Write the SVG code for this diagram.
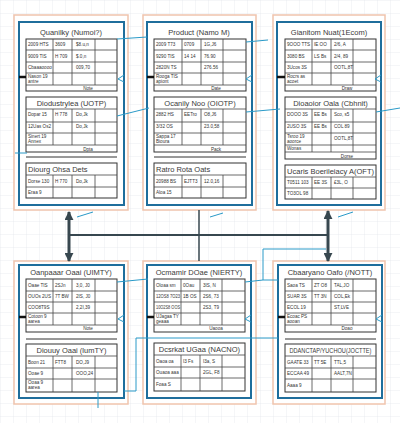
<svg xmlns="http://www.w3.org/2000/svg" width="400" height="423" viewBox="0 0 400 423">
<style>
.outer{fill:#fff;stroke:#f0c4ad;stroke-width:1.5}
.inner{fill:#fff;stroke:#1f6e9c;stroke-width:2}
.tbl{fill:#fff;stroke:#333;stroke-width:1}
.gl{fill:none;stroke:#444;stroke-width:0.8}
.title{font-family:"Liberation Sans",Arial,sans-serif;font-size:7.5px;fill:#3a3a3a;text-anchor:middle}
.ltitle{font-family:"Liberation Sans",Arial,sans-serif;font-size:7.5px;fill:#3a3a3a}
.c{font-family:"Liberation Sans",Arial,sans-serif;font-size:4.6px;fill:#333}
.n{font-family:"Liberation Sans",Arial,sans-serif;font-size:4.6px;fill:#333;text-anchor:middle}
.sep{stroke:#333;stroke-width:1}
.bm{stroke:#111;stroke-width:2.5}
.bl{fill:none;stroke:#2a9ac8;stroke-width:1}
.dk{fill:none;stroke:#37474f}
</style>
<defs>
<pattern id="grid" width="13" height="13" patternUnits="userSpaceOnUse">
<path d="M13 0H0V13" fill="none" stroke="#e1e5ea" stroke-width="0.7"/>
</pattern>
<marker id="ah" viewBox="0 0 10 10" refX="9" refY="5" markerWidth="9" markerHeight="9" markerUnits="userSpaceOnUse" orient="auto-start-reverse">
<path d="M0 0L10 5L0 10z" fill="#37474f"/>
</marker>
</defs>
<rect width="400" height="423" fill="#fff"/>
<rect width="400" height="423" fill="url(#grid)"/>

<!-- Card A -->
<g id="card-a" transform="translate(14,15)">
<rect class="outer" x="0" y="0" width="114" height="195"/>
<rect class="inner" x="5" y="7" width="105" height="183"/>
<text class="title" x="57" y="20">Quanilky (Numoi?)</text>
<g transform="translate(12,24)">
<rect class="tbl" width="91" height="52"/>
<path class="gl" d="M0 11H91M0 23H91M0 34H91M0 46H91M27 0V46M46 0V46M69 0V46"/>
<text class="c" x="2" y="7">2009 HTS</text><text class="c" x="29" y="7">3609</text><text class="c" x="50" y="7">$8.u,n</text>
<text class="c" x="2" y="19">9009 TIS</text><text class="c" x="29" y="19">H 709</text><text class="c" x="50" y="19">$.0,n</text>
<text class="c" x="2" y="30">Cbaaaoooo</text><text class="c" x="50" y="30">009,70</text>
<text class="c" x="2" y="39">Nason 19</text><text class="c" x="2" y="44">antre</text>
<text class="n" x="62" y="51">Note</text>
</g>
<g transform="translate(12,82)">
<rect class="tbl" width="91" height="55"/>
<path class="gl" d="M0 12H91M0 25H91M0 36H91M0 48H91M27 12V48M46 12V48M69 12V48"/>
<text class="title" x="45.5" y="9">Diodustrylea (UOTP)</text>
<text class="c" x="2" y="19">Dopar 15</text><text class="c" x="29" y="19">H 778</text><text class="c" x="50" y="19">Do,Jk</text>
<text class="c" x="2" y="31">12Uas Os2</text><text class="c" x="50" y="31">Do,Jk</text>
<text class="c" x="2" y="41">Sinert 19</text><text class="c" x="2" y="46">Annex</text>
<text class="n" x="62" y="54">Dpta</text>
</g>
<line class="sep" x1="12" y1="142" x2="103" y2="142"/>
<g transform="translate(12,148)">
<rect class="tbl" width="91" height="35"/>
<path class="gl" d="M0 12H91M0 24H91M27 12V35M46 12V35M69 12V35"/>
<text class="ltitle" x="2" y="9">Diourg Ohsa Dets</text>
<text class="c" x="2" y="20">Dorse 130</text><text class="c" x="29" y="20">H 770</text><text class="c" x="50" y="20">Do,Jk</text>
<text class="c" x="2" y="31">Eraa 9</text>
</g>
<line class="bm" x1="5" y1="62" x2="12" y2="62"/>
<path class="bl" d="M110 60L104 64L110 67"/>
</g>

<!-- Card B -->
<g id="card-b" transform="translate(143,15)">
<rect class="outer" x="0" y="0" width="113" height="195"/>
<rect class="inner" x="4" y="7" width="105" height="183"/>
<text class="title" x="56" y="20">Product (Namo M)</text>
<g transform="translate(11,24)">
<rect class="tbl" width="92" height="52"/>
<path class="gl" d="M0 11H92M0 23H92M0 34H92M0 46H92M28 0V46M47 0V46M69 0V46"/>
<text class="c" x="2" y="7">2009 T73</text><text class="c" x="30" y="7">0709</text><text class="c" x="50" y="7">1G,J6</text>
<text class="c" x="2" y="19">9290 TIS</text><text class="c" x="30" y="19">14 14</text><text class="c" x="50" y="19">76.90</text>
<text class="c" x="2" y="30">2820N TS</text><text class="c" x="50" y="30">276.56</text>
<text class="c" x="2" y="39">Rooga TIS</text><text class="c" x="2" y="44">apiont</text>
<text class="n" x="62" y="51">Date</text>
</g>
<g transform="translate(11,82)">
<rect class="tbl" width="92" height="55"/>
<path class="gl" d="M0 12H92M0 25H92M0 36H92M0 48H92M28 12V48M47 12V48M69 12V48"/>
<text class="title" x="46" y="9">Ocanily Noo (OIOTP)</text>
<text class="c" x="2" y="19">2882 HS</text><text class="c" x="30" y="19">EETro</text><text class="c" x="50" y="19">O8,J6</text>
<text class="c" x="2" y="31">3/32 OS</text><text class="c" x="50" y="31">23.0,58</text>
<text class="c" x="2" y="41">Sappa 17</text><text class="c" x="2" y="46">Bioura</text>
<text class="n" x="62" y="54">Pack</text>
</g>
<line class="sep" x1="11" y1="142" x2="103" y2="142"/>
<g transform="translate(11,148)">
<rect class="tbl" width="92" height="35"/>
<path class="gl" d="M0 12H92M0 24H92M28 12V35M47 12V35M69 12V35"/>
<text class="ltitle" x="2" y="9">Ratro Rota Oats</text>
<text class="c" x="2" y="20">20988 BS</text><text class="c" x="30" y="20">EJTT3</text><text class="c" x="50" y="20">12.0,16</text>
<text class="c" x="2" y="31">Aloa 15</text>
</g>
<line class="bm" x1="4" y1="62" x2="11" y2="62"/>
<path class="bl" d="M109 60L103 64L109 67"/>
</g>

<!-- Card C -->
<g id="card-c" transform="translate(273,15)">
<rect class="outer" x="0" y="0" width="112" height="195"/>
<rect class="inner" x="4" y="7" width="104" height="183"/>
<text class="title" x="56" y="20">Gianitom Nuat(1Ecom)</text>
<g transform="translate(12,24)">
<rect class="tbl" width="91" height="52"/>
<path class="gl" d="M0 11H91M0 23H91M0 34H91M0 46H91M27 0V46M46 0V46M68 0V46"/>
<text class="c" x="2" y="7">9OOO TTS</text><text class="c" x="29" y="7">IE OO</text><text class="c" x="49" y="7">2/6, A</text>
<text class="c" x="2" y="19">3080 BS</text><text class="c" x="29" y="19">LS Bs</text><text class="c" x="49" y="19">2/4, 89</text>
<text class="c" x="2" y="30">3Ucos 3S</text><text class="c" x="49" y="30">OOTL,8T</text>
<text class="c" x="2" y="39">Rocrs as</text><text class="c" x="2" y="44">acoet</text>
<text class="n" x="62" y="51">Draw</text>
</g>
<g transform="translate(12,82)">
<rect class="tbl" width="91" height="62"/>
<path class="gl" d="M0 12H91M0 25H91M0 36H91M0 48H91M0 55H91M27 12V55M46 12V55M68 12V55"/>
<text class="title" x="45.5" y="9">Dioaoior Oala (Cbhnit)</text>
<text class="c" x="2" y="19">DOOO 3S</text><text class="c" x="29" y="19">EE Bs</text><text class="c" x="49" y="19">Sco, s5</text>
<text class="c" x="2" y="31">2USO 3S</text><text class="c" x="29" y="31">EE Bs</text><text class="c" x="49" y="31">COL 89</text>
<text class="c" x="2" y="41">Tsroo 19</text><text class="c" x="2" y="46">aoorce</text><text class="c" x="49" y="43">OOTL,8T</text>
<text class="c" x="2" y="53">Wonas</text>
<text class="n" x="62" y="61">Dorse</text>
</g>
<g transform="translate(12,150)">
<rect class="tbl" width="91" height="34"/>
<path class="gl" d="M0 12H91M0 23H91M27 12V34M46 12V34M68 12V34"/>
<text class="ltitle" x="2" y="9" textLength="87" lengthAdjust="spacingAndGlyphs">Ucaris Boerileiacy A(OFT)</text>
<text class="c" x="2" y="19">T0511 103</text><text class="c" x="29" y="19">EE 3S</text><text class="c" x="49" y="19">£3L, O</text>
<text class="c" x="2" y="30">TO3OL 98</text>
</g>
<line class="bm" x1="4" y1="62" x2="12" y2="62"/>
<path class="bl" d="M108 60L102 64L108 67"/>
</g>

<!-- Card D -->
<g id="card-d" transform="translate(14,261)">
<rect class="outer" x="0" y="0" width="114" height="143"/>
<rect class="inner" x="5" y="4" width="105" height="133"/>
<text class="title" x="57" y="14">Oanpaaar Oaai (UIMTY)</text>
<g transform="translate(12,18)">
<rect class="tbl" width="91" height="53"/>
<path class="gl" d="M0 12H91M0 23H91M0 34H91M0 46H91M27 0V46M46 0V46M69 0V46"/>
<text class="c" x="2" y="8">Oaae TIS</text><text class="c" x="29" y="8">2SJn</text><text class="c" x="50" y="8">3,0, J0</text>
<text class="c" x="2" y="19">OUOs 2US</text><text class="c" x="29" y="19">7T BW</text><text class="c" x="50" y="19">2IS, J0</text>
<text class="c" x="2" y="30">COO8T9S</text><text class="c" x="50" y="30">2,2I,39</text>
<text class="c" x="2" y="39">Cotoon 9</text><text class="c" x="2" y="44">aarea</text>
<text class="n" x="62" y="51">Note</text>
</g>
<line class="sep" x1="12" y1="78" x2="103" y2="78"/>
<g transform="translate(12,83)">
<rect class="tbl" width="91" height="48"/>
<path class="gl" d="M0 12H91M0 24H91M0 35H91M27 12V48M46 12V48M69 12V48"/>
<text class="title" x="45.5" y="9">Diouuy Oaai (lumTY)</text>
<text class="c" x="2" y="20">Boon 21</text><text class="c" x="29" y="20">FTT8</text><text class="c" x="50" y="20">DO,J9</text>
<text class="c" x="2" y="31">Ooae 9</text><text class="c" x="50" y="31">OOO,24</text>
<text class="c" x="2" y="40">Ooaa 9</text><text class="c" x="2" y="45">aarea</text>
</g>
<line class="bm" x1="5" y1="56" x2="12" y2="56"/>
<path class="bl" d="M110 54L104 58L110 61"/>
</g>

<!-- Card E -->
<g id="card-e" transform="translate(143,261)">
<rect class="outer" x="0" y="0" width="113" height="143"/>
<rect class="inner" x="4" y="4" width="104" height="133"/>
<text class="title" x="56" y="14">Ocmamir DOae (NIERTY)</text>
<g transform="translate(11,18)">
<rect class="tbl" width="91" height="53"/>
<path class="gl" d="M0 12H91M0 23H91M0 34H91M0 46H91M27 0V46M46 0V46M68 0V46"/>
<text class="c" x="2" y="8">Oloaa sm</text><text class="c" x="29" y="8">0Oau</text><text class="c" x="49" y="8">3IS, N</text>
<text class="c" x="2" y="19" textLength="24" lengthAdjust="spacingAndGlyphs">12OS8 7O23</text><text class="c" x="29" y="19">1B OS</text><text class="c" x="49" y="19">2S6, 73</text>
<text class="c" x="2" y="30" textLength="24" lengthAdjust="spacingAndGlyphs">10O2S8 OOS</text><text class="c" x="49" y="30">2S3, T9</text>
<text class="c" x="2" y="39">UJagaa TY</text><text class="c" x="2" y="44">geaaa</text>
<text class="n" x="62" y="51">Uaooa</text>
</g>
<g transform="translate(11,82)">
<rect class="tbl" width="91" height="48"/>
<path class="gl" d="M0 12H91M0 24H91M0 35H91M27 12V48M46 12V48M68 12V48"/>
<text class="title" x="45.5" y="9">Dcsrkat UGaa (NACNO)</text>
<text class="c" x="2" y="20">Oaoa oa</text><text class="c" x="29" y="20">I3 Fs</text><text class="c" x="49" y="20">I3a, S</text>
<text class="c" x="2" y="31">Ouaoa aaa</text><text class="c" x="49" y="31">2GL, F8</text>
<text class="c" x="2" y="43">Foaa S</text>
</g>
<line class="bm" x1="4" y1="56" x2="11" y2="56"/>
<path class="bl" d="M108 54L102 58L108 61"/>
</g>

<!-- Card F -->
<g id="card-f" transform="translate(273,261)">
<rect class="outer" x="0" y="0" width="112" height="143"/>
<rect class="inner" x="5" y="4" width="104" height="133"/>
<text class="title" x="57" y="14">Cbaaryano Oafo (/NOTT)</text>
<g transform="translate(12,18)">
<rect class="tbl" width="91" height="53"/>
<path class="gl" d="M0 12H91M0 23H91M0 34H91M0 46H91M27 0V46M46 0V46M68 0V46"/>
<text class="c" x="2" y="8">Saoa TS</text><text class="c" x="29" y="8">ZT O8</text><text class="c" x="49" y="8">TAL,JO</text>
<text class="c" x="2" y="19">SUAR 3S</text><text class="c" x="29" y="19">TT 3N</text><text class="c" x="49" y="19">COL,Ek</text>
<text class="c" x="2" y="30">ECOL 19</text><text class="c" x="49" y="30">ST,LVE</text>
<text class="c" x="2" y="39">Ecoac PS</text><text class="c" x="2" y="44">aooan</text>
<text class="n" x="62" y="51">Doao</text>
</g>
<line class="sep" x1="12" y1="78" x2="103" y2="78"/>
<g transform="translate(12,83)">
<rect class="tbl" width="91" height="48"/>
<path class="gl" d="M0 12H91M0 24H91M0 35H91M27 12V48M46 12V48M68 12V48"/>
<text class="title" x="45.5" y="9" textLength="82" lengthAdjust="spacingAndGlyphs">DDANCTAP/YUCHOU(JOCTTE)</text>
<text class="c" x="2" y="20">GAATE 33</text><text class="c" x="29" y="20">TT 5E</text><text class="c" x="49" y="20">TTL,5</text>
<text class="c" x="2" y="31">ECCAA 49</text><text class="c" x="49" y="31">AALT,7N</text>
<text class="c" x="2" y="43">Aaaa 9</text>
</g>
<line class="bm" x1="5" y1="56" x2="12" y2="56"/>
<path class="bl" d="M109 54L103 58L109 61"/>
</g>

<!-- Connectors -->
<g id="connectors">
<path class="bl" d="M117 39L147 37"/>
<path class="bl" d="M246 42L268 40"/>
<path class="bl" d="M117 116L149 108"/>
<path class="bl" d="M246 112L280 109"/>
<path class="bl" d="M376 112L400 108"/>
<path class="bl" d="M15 153H27"/>
<path class="bl" d="M77 217L93 212"/>
<path class="bl" d="M210 217L223 213"/>
<path class="bl" d="M338 217L353 212"/>
<path class="bl" d="M117 282L148 279"/>
<path class="bl" d="M245 282L263 280"/>
<path class="bl" d="M326 249H263V280H278"/>
<path class="bl" d="M124 391H136V338H278"/>
<path class="bl" d="M98 392V408"/>
<path class="dk" stroke-width="2" d="M69 235H328"/>
<path class="dk" stroke-width="1.5" d="M199 210V261"/>
<line class="dk" stroke-width="3" x1="69" y1="212" x2="69" y2="261" marker-start="url(#ah)" marker-end="url(#ah)"/>
<line class="dk" stroke-width="3" x1="328" y1="211" x2="328" y2="261" marker-start="url(#ah)" marker-end="url(#ah)"/>
</g>
</svg>
